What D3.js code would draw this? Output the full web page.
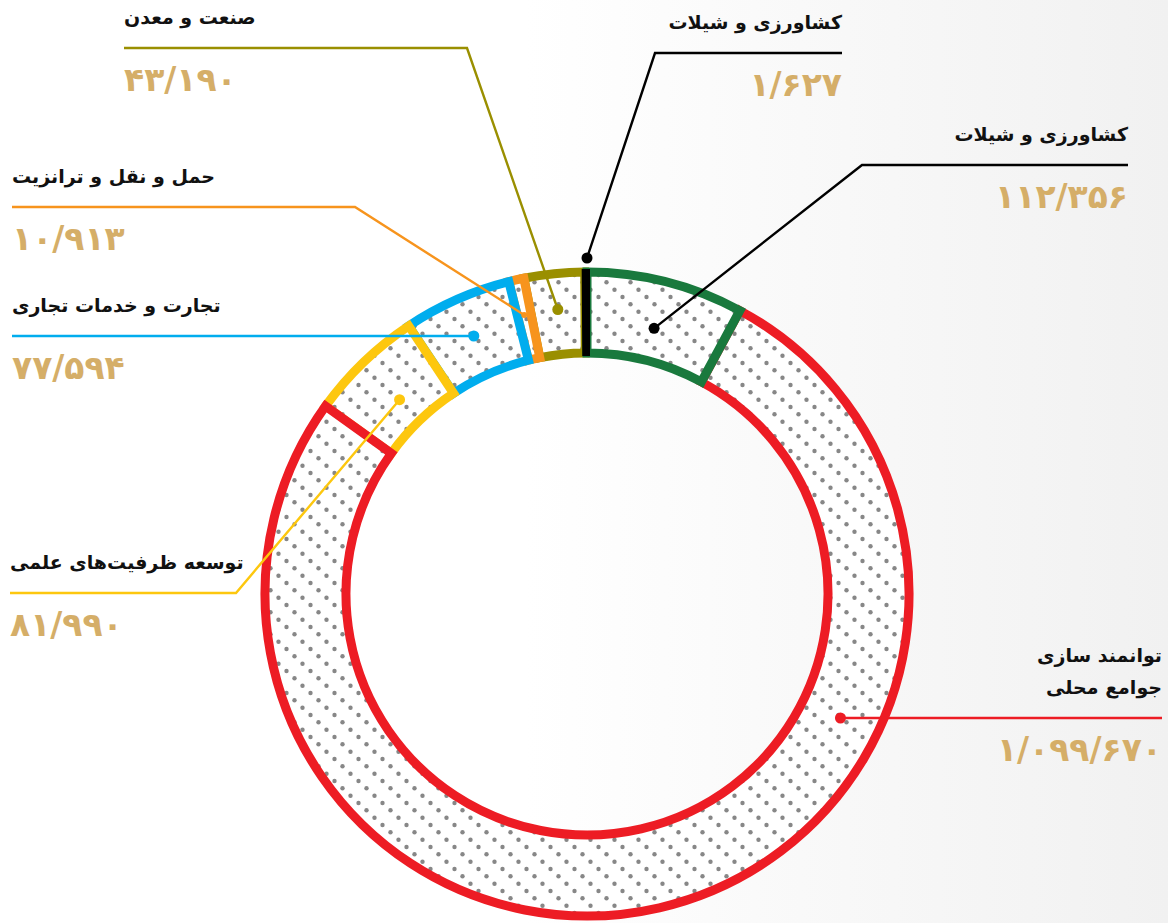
<!DOCTYPE html>

<head>
    <meta charset="utf-8">
    <title>Donut Chart</title>
    <script type="text/javascript" src="https://d3js.org/d3.v7.min.js"></script>
    <style>
        html, body { margin: 0; padding: 0; background: #fff; }
        #container { width: 1168px; height: 923px; }
        text { font-family: "DejaVu Sans", sans-serif; font-weight: bold; }
    </style>
</head>

<body>
    <div id="container"></div>
    <script>
        //-----------------------------DATA-----------------------------//
        // slices in clockwise order starting at 12 o'clock
        var categories = ["کشاورزی و شیلات", "توانمند سازی جوامع محلی", "توسعه ظرفیت‌های علمی",
            "تجارت و خدمات تجاری", "حمل و نقل و ترانزیت", "صنعت و معدن", "کشاورزی و شیلات"];
        var titleLines = [["کشاورزی و شیلات"], ["توانمند سازی", "جوامع محلی"], ["توسعه ظرفیت‌های علمی"],
            ["تجارت و خدمات تجاری"], ["حمل و نقل و ترانزیت"], ["صنعت و معدن"], ["کشاورزی و شیلات"]];
        var values = [112356, 1099670, 81990, 77594, 10913, 43190, 1627];
        var colors = ["#19793d", "#ed1c24", "#fdc70e", "#00adee", "#f7941d", "#9a8f00", "#000000"];
        var lineColors = ["#000000", "#ed1c24", "#fdc70e", "#00adee", "#f7941d", "#9a8f00", "#000000"];
        // paint order: later ones sit on top at shared borders
        var drawOrder = [5, 4, 3, 2, 1, 0, 6];

        //---------------------------LAYOUT-----------------------------//
        var cx = 587, cy = 594,
            innerR = 241, outerR = 322,
            width = 1168, height = 923;

        // side: "l" text left aligned at x, "r" right aligned at x
        // y: underline height, knee: where the leader bends toward the dot
        var labels = [
            { side: "r", x: 1128, y: 165, knee: [862, 165], angle: null, r: 274 },
            { side: "r", x: 1162, y: 718, knee: null, angle: 116, r: 282 },
            { side: "l", x: 10, y: 593, knee: [236, 593], angle: null, r: 270 },
            { side: "l", x: 12, y: 336, knee: null, angle: null, r: 280 },
            { side: "l", x: 12, y: 207, knee: [355, 207], angle: null, r: 286 },
            { side: "l", x: 124, y: 48, knee: [467, 48], angle: null, r: 286 },
            { side: "r", x: 842, y: 53, knee: [655, 53], angle: 0, r: 336 }
        ];

        function toFa(n) {
            var fa = "۰۱۲۳۴۵۶۷۸۹";
            return d3.format(",")(n).replace(/,/g, "/").replace(/[0-9]/g, function (c) { return fa[+c]; });
        }

        //-----------------------------DRAW-----------------------------//
        function draw() {
            var svg = d3.select("div#container").append("svg")
                .attr("width", width)
                .attr("height", height);

            var defs = svg.append("defs");

            var bg = defs.append("linearGradient").attr("id", "bg")
                .attr("x1", "0").attr("y1", "0").attr("x2", "1").attr("y2", "0");
            bg.append("stop").attr("offset", "0.45").attr("stop-color", "#ffffff");
            bg.append("stop").attr("offset", "1").attr("stop-color", "#f1f1f1");

            var pat = defs.append("pattern").attr("id", "dots")
                .attr("patternUnits", "userSpaceOnUse")
                .attr("width", 24).attr("height", 22);
            pat.append("rect").attr("width", 24).attr("height", 22).attr("fill", "#fff");
            [[3.5, 3.7], [11.5, 11], [19.5, 18.3]].forEach(function (p) {
                pat.append("circle").attr("cx", p[0]).attr("cy", p[1]).attr("r", 2.2).attr("fill", "#878787");
            });

            svg.append("rect").attr("width", width).attr("height", height).attr("fill", "url(#bg)");

            //----------------------------ARCS-----------------------------//
            var pie = d3.pie().sort(null).value(function (d) { return d; });
            var arcs = pie(values);
            var arc = d3.arc().innerRadius(innerR).outerRadius(outerR);

            var g = svg.append("g").attr("transform", "translate(" + cx + "," + cy + ")");

            g.selectAll("path.slice")
                .data(drawOrder)
                .enter().append("path")
                .attr("class", "slice")
                .attr("d", function (i) { return arc(arcs[i]); })
                .attr("fill", "url(#dots)")
                .attr("stroke", function (i) { return colors[i]; })
                .attr("stroke-width", function (i) { return i === 6 ? 6 : 9; })
                .attr("stroke-linejoin", "miter");

            //---------------------------LABELS----------------------------//
            var lab = svg.append("g");

            arcs.forEach(function (a, i) {
                var L = labels[i];
                var ang = L.angle !== null ? L.angle * Math.PI / 180 : (a.startAngle + a.endAngle) / 2;
                var p = d3.pointRadial(ang, L.r);
                var dot = [cx + p[0], cy + p[1]];
                var col = lineColors[i];

                // underline + leader
                var pts;
                if (L.knee) {
                    pts = [[L.x, L.y], L.knee, dot];
                } else {
                    dot = [dot[0], L.y];
                    pts = [[L.x, L.y], dot];
                }
                lab.append("path")
                    .attr("d", d3.line()(pts))
                    .attr("fill", "none")
                    .attr("stroke", col)
                    .attr("stroke-width", 2.4);

                lab.append("circle")
                    .attr("cx", dot[0]).attr("cy", dot[1])
                    .attr("r", i === 4 ? 3 : 5.5)
                    .attr("fill", col);

                var anchor = L.side === "l" ? "start" : "end";
                var lines = titleLines[i];
                lines.forEach(function (t, k) {
                    lab.append("text")
                        .attr("x", L.x)
                        .attr("y", L.y - 24 - (lines.length - 1 - k) * 32)
                        .attr("text-anchor", anchor)
                        .attr("font-size", 19)
                        .attr("fill", "#111")
                        .text(t);
                });

                lab.append("text")
                    .attr("x", L.x)
                    .attr("y", L.y + 43)
                    .attr("text-anchor", anchor)
                    .attr("font-size", 33)
                    .attr("letter-spacing", -1)
                    .attr("fill", "#d5ae68")
                    .text(toFa(values[i]));
            });
        }

        draw();
    </script>
</body>
